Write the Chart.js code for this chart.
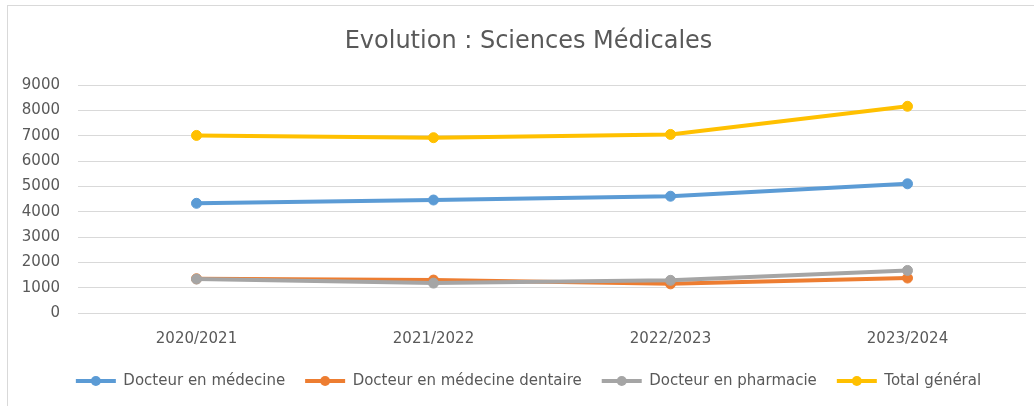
<!DOCTYPE html>
<html>
<head>
<meta charset="utf-8">
<script src="https://cdn.jsdelivr.net/npm/chart.js@4"></script>
<style>
  html, body { margin: 0; padding: 0; background: #fff; overflow: hidden; }
  body { width: 1034px; height: 406px; position: relative; }
  #box { position: absolute; left: 7px; top: 5px; width: 1041px; height: 400px; border: 1px solid #d9d9d9; }
</style>
</head>
<body>
<div id="box"><canvas id="evolution" width="1041" height="400"></canvas></div>
<script>
// Data
const years = ['2020/2021', '2021/2022', '2022/2023', '2023/2024'];
const medecine = [4330, 4460, 4610, 5100];
const dentaire = [1350, 1300, 1150, 1380];
const pharmacie = [1340, 1180, 1290, 1680];
const totalGeneral = [7010, 6920, 7050, 8160];

const seriesNames = ['Docteur en médecine', 'Docteur en médecine dentaire', 'Docteur en pharmacie', 'Total général'];
const seriesColors = ['#5B9BD5', '#ED7D31', '#A5A5A5', '#FFC000'];

const textColor = '#595959';
const gridColor = '#d9d9d9';

function makeSeries(i, values, order) {
  return {
    label: seriesNames[i],
    data: values,
    borderColor: seriesColors[i],
    backgroundColor: seriesColors[i],
    pointBackgroundColor: seriesColors[i],
    pointBorderColor: seriesColors[i],
    borderWidth: 4,
    pointRadius: 5,
    pointBorderWidth: 1,
    tension: 0,
    order: order
  };
}

// title and legend are centred on the whole chart box, not on the area left of the right padding
const centreOnBox = {
  id: 'centreOnBox',
  afterLayout(chart) {
    const shift = 11.5;
    [chart.titleBlock, chart.legend].forEach(b => {
      if (b) { b.left += shift; b.right += shift; }
    });
  }
};

// draws the round marker on top of each legend line
const legendMarkers = {
  id: 'legendMarkers',
  afterDraw(chart) {
    const legend = chart.legend;
    if (!legend || !legend.legendHitBoxes) return;
    const opts = legend.options.labels;
    const ctx = chart.ctx;
    legend.legendHitBoxes.forEach((hb, i) => {
      const item = legend.legendItems[i];
      ctx.save();
      ctx.fillStyle = item.fillStyle;
      ctx.beginPath();
      ctx.arc(hb.left + opts.boxWidth / 2, hb.top + opts.font.size / 2, 5, 0, Math.PI * 2);
      ctx.fill();
      ctx.restore();
    });
  }
};

new Chart(document.getElementById('evolution'), {
  type: 'line',
  data: {
    labels: years,
    datasets: [
      makeSeries(0, medecine, 4),
      makeSeries(1, dentaire, 3),
      makeSeries(2, pharmacie, 2),
      makeSeries(3, totalGeneral, 1)
    ]
  },
  options: {
    responsive: false,
    animation: false,
    layout: { padding: { left: 0, right: 23, top: 0, bottom: 7.5 } },
    scales: {
      x: {
        offset: true,
        grid: { display: false, drawTicks: false },
        border: { display: false },
        ticks: { color: textColor, font: { family: 'DejaVu Sans', size: 15 }, padding: 17 },
        afterFit(scale) { scale.height = 40.5; }
      },
      y: {
        min: 0,
        max: 9000,
        grid: { color: gridColor, lineWidth: 1, drawTicks: false },
        border: { display: false },
        ticks: {
          stepSize: 1000,
          color: textColor,
          font: { family: 'DejaVu Sans', size: 15 },
          padding: 18,
          callback: (value) => String(value)
        },
        afterFit(scale) { scale.width = 70; }
      }
    },
    plugins: {
      title: {
        display: true,
        text: 'Evolution : Sciences Médicales',
        color: textColor,
        font: { family: 'DejaVu Sans', size: 24, weight: 'normal' },
        padding: { top: 21.6, bottom: 28.6 }
      },
      legend: {
        position: 'bottom',
        labels: {
          color: textColor,
          font: { family: 'DejaVu Sans', size: 15 },
          boxWidth: 40,
          boxHeight: 4,
          padding: 20,
          sort: (a, b) => a.datasetIndex - b.datasetIndex,
          generateLabels(chart) {
            const items = Chart.defaults.plugins.legend.labels.generateLabels(chart);
            items.forEach(it => { it.lineWidth = 0; it.strokeStyle = 'rgba(0,0,0,0)'; });
            return items;
          }
        }
      },
      tooltip: { enabled: false }
    }
  },
  plugins: [centreOnBox, legendMarkers]
});
</script>
</body>
</html>
